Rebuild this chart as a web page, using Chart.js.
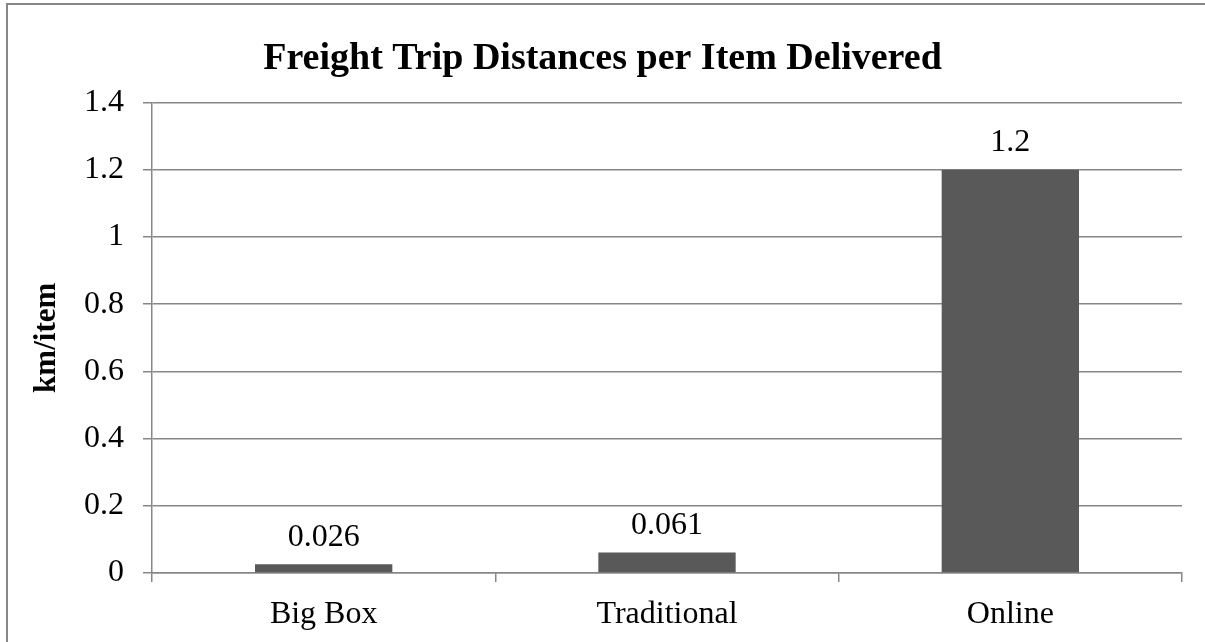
<!DOCTYPE html>
<html>
<head>
<meta charset="utf-8">
<script src="https://cdn.jsdelivr.net/npm/chart.js@4"></script>
<style>
  html, body { margin: 0; padding: 0; background: #fff; overflow: hidden; }
  #wrap { width: 1205px; height: 642px; }
</style>
</head>
<body>
<div id="wrap"><canvas id="chart" width="1205" height="642"></canvas></div>
<script>
// chart data
const categories = ['Big Box', 'Traditional', 'Online'];
const kmPerItem = [0.026, 0.061, 1.2];
const valueLabels = ['0.026', '0.061', '1.2'];
const yTickLabels = ['0', '0.2', '0.4', '0.6', '0.8', '1', '1.2', '1.4'];

const gridGray = '#878787';
const serif = "'Liberation Serif', 'Times New Roman', serif";

// outer frame of the chart (runs off the right and bottom edges)
const framePlugin = {
    id: 'frame',
    beforeDraw(chart) {
        const ctx = chart.ctx;
        ctx.save();
        ctx.strokeStyle = gridGray;
        ctx.lineWidth = 2;
        ctx.strokeRect(7, 4, chart.width + 20, chart.height + 20);
        ctx.restore();
    }
};

// value labels above each bar
const valueLabelPlugin = {
    id: 'valueLabels',
    afterDatasetsDraw(chart) {
        const ctx = chart.ctx;
        const bars = chart.getDatasetMeta(0).data;
        ctx.save();
        ctx.font = '32px ' + serif;
        ctx.fillStyle = '#000';
        ctx.textAlign = 'center';
        ctx.textBaseline = 'middle';
        bars.forEach(function (bar, i) {
            ctx.fillText(valueLabels[i], bar.x, bar.y - 27);
        });
        ctx.restore();
    }
};

function createChart() {
    const ctx = document.getElementById('chart').getContext('2d');
    const data = {
        labels: categories,
        datasets: [{
            label: 'km/item',
            data: kmPerItem,
            backgroundColor: '#595959',
            borderWidth: 0,
            barPercentage: 1,
            categoryPercentage: 0.4
        }]
    };

    const config = {
        type: 'bar',
        data: data,
        options: {
            responsive: false,
            animation: false,
            layout: { padding: 0 },
            plugins: {
                legend: { display: false },
                tooltip: { enabled: false },
                title: {
                    display: true,
                    text: 'Freight Trip Distances per Item Delivered',
                    color: '#000',
                    font: { family: serif, size: 38, weight: 'bold', lineHeight: 1.2 },
                    padding: { top: 36, bottom: 21 }
                }
            },
            scales: {
                x: {
                    grid: {
                        offset: true,
                        drawOnChartArea: false,
                        drawTicks: true,
                        tickLength: 9,
                        color: gridGray,
                        lineWidth: 1.5
                    },
                    border: { color: gridGray, width: 1.5 },
                    ticks: {
                        color: '#000',
                        font: { family: serif, size: 32 },
                        padding: 13,
                        maxRotation: 0
                    },
                    afterFit(scale) { scale.height = 69; }
                },
                y: {
                    min: 0,
                    max: 1.4,
                    grid: {
                        color: gridGray,
                        lineWidth: 1.5,
                        tickLength: 9
                    },
                    border: { color: gridGray, width: 1.5 },
                    ticks: {
                        stepSize: 0.2,
                        color: '#000',
                        font: { family: serif, size: 32 },
                        padding: 19,
                        callback: function (value, index) { return yTickLabels[index]; }
                    },
                    title: {
                        display: true,
                        text: 'km/item',
                        color: '#000',
                        font: { family: serif, size: 31, weight: 'bold', lineHeight: 1.2 },
                        padding: { top: 28, bottom: 0 }
                    },
                    afterFit(scale) { scale.width = 152; }
                },
                // empty right-hand strip so the title centres on the whole canvas
                yRight: {
                    position: 'right',
                    min: 0,
                    max: 1.4,
                    grid: { drawOnChartArea: false, drawTicks: false },
                    border: { display: false },
                    ticks: { display: false },
                    afterFit(scale) { scale.width = 23; }
                }
            }
        },
        plugins: [framePlugin, valueLabelPlugin]
    };

    new Chart(ctx, config);
}

createChart();
</script>
</body>
</html>
